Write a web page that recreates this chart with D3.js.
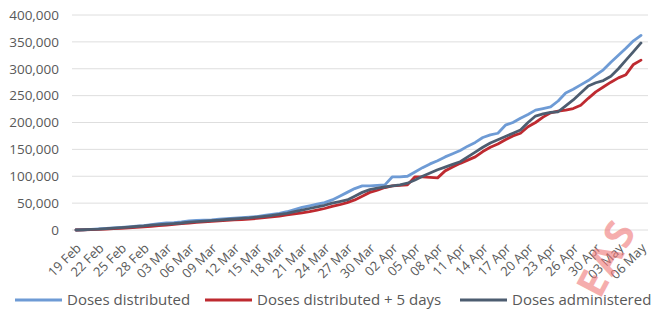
<!DOCTYPE html>
<html>
<head>
<meta charset="utf-8">
<script src="https://cdn.jsdelivr.net/npm/d3@7"></script>
<style>
  body { margin: 0; background: #ffffff; }
  text { font-family: "Open Sans", "Noto Sans", sans-serif; }
</style>
</head>
<body>
<svg id="chart"></svg>
<script>
// categories (one per reported day, 28 Apr not in the table)
var dates = [
  "19 Feb","20 Feb","21 Feb","22 Feb","23 Feb","24 Feb","25 Feb","26 Feb","27 Feb","28 Feb",
  "01 Mar","02 Mar","03 Mar","04 Mar","05 Mar","06 Mar","07 Mar","08 Mar","09 Mar","10 Mar",
  "11 Mar","12 Mar","13 Mar","14 Mar","15 Mar","16 Mar","17 Mar","18 Mar","19 Mar","20 Mar",
  "21 Mar","22 Mar","23 Mar","24 Mar","25 Mar","26 Mar","27 Mar","28 Mar","29 Mar","30 Mar",
  "31 Mar","01 Apr","02 Apr","03 Apr","04 Apr","05 Apr","06 Apr","07 Apr","08 Apr","09 Apr",
  "10 Apr","11 Apr","12 Apr","13 Apr","14 Apr","15 Apr","16 Apr","17 Apr","18 Apr","19 Apr",
  "20 Apr","21 Apr","22 Apr","23 Apr","24 Apr","25 Apr","26 Apr","27 Apr","29 Apr","30 Apr",
  "01 May","02 May","03 May","04 May","05 May","06 May"
];

// values in thousands of doses
var distributed = [
  0,0.5,1,2,3,4,5,6,7,8,
  10,12,13,13.5,15,17,18,18.5,19,20,
  21,22,23,24,25,27,29,31,34,38,
  42,45,48,51,56,63,70,77,82,82,
  83,84,99,99,100,108,116,123,129,136,
  142,148,156,163,172,177,180,195,200,208,
  215,223,226,229,240,255,262,270,278,288,
  298,312,325,338,352,362
];

var distributedPlus5 = [
  0,0.3,0.6,1,1.5,2.5,3,4,5,6,
  7,8,9,10.5,12,13,14,15,16,17,
  18,19,19.5,20.5,21.5,23,24.5,26,28,30,
  32,34,37,40,44,47,51,56,63,70,
  74,79,82,83,84,99,99,98,97,110,
  117,124,130,136,146,154,160,168,175,180,
  192,200,210,218,221,223,226,232,245,257,
  266,275,283,289,308,316
];

var administered = [
  0,0.5,1,1.5,2.5,3.5,4.5,5.5,6.5,7.5,
  9,10,11,12,13,14.5,15.5,16.5,17.5,18.5,
  19.5,20.5,21.5,22.5,24,25.5,27,29,31,34,
  37,40,43,46,50,53,56,63,70,75,
  78,80,82,84,87,93,100,106,112,117,
  122,127,136,145,154,162,168,174,180,186,
  200,212,216,219,220,231,242,255,268,274,
  278,286,300,316,332,348
];

var yTicks = [0, 50000, 100000, 150000, 200000, 250000, 300000, 350000, 400000];

var seriesNames = ["Doses distributed", "Doses distributed + 5 days", "Doses administered"];
var seriesColors = ["#6e9bd5", "#be2a30", "#4d5d70"];

var width = 657, height = 311;

var svg = d3.select("#chart")
  .attr("width", width)
  .attr("height", height);

var x = d3.scalePoint()
  .domain(dates)
  .range([76, 641]);

var y = d3.scaleLinear()
  .domain([0, 400000])
  .range([230, 15]);

// gridlines
svg.append("g")
  .selectAll("line")
  .data(yTicks)
  .enter()
  .append("line")
  .attr("x1", 72)
  .attr("x2", 648)
  .attr("y1", function(d) { return y(d); })
  .attr("y2", function(d) { return y(d); })
  .attr("stroke", "#dedede")
  .attr("stroke-width", 1);

// y axis labels
svg.append("g")
  .attr("transform", "translate(59,0)")
  .call(d3.axisLeft(y).tickValues(yTicks).tickSize(0).tickPadding(0).tickFormat(d3.format(",")))
  .call(function(g) { g.select(".domain").remove(); })
  .selectAll("text")
  .attr("fill", "#595959")
  .style("font-size", "13.5px")
  .style("font-family", "'Open Sans', sans-serif");

// x axis labels, every third day
var labelDates = dates.filter(function(d, i) { return i % 3 === 0; });
svg.append("g")
  .selectAll("text")
  .data(labelDates)
  .enter()
  .append("text")
  .attr("transform", function(d) { return "translate(" + (x(d) + 6) + ",249) rotate(-45)"; })
  .attr("text-anchor", "end")
  .attr("fill", "#595959")
  .style("font-size", "13px")
  .text(function(d) { return d; });

// lines
var allSeries = [distributed, distributedPlus5, administered];
var line = d3.line()
  .x(function(d, i) { return x(dates[i]); })
  .y(function(d) { return y(d * 1000); });

svg.append("g")
  .selectAll("path")
  .data(allSeries)
  .enter()
  .append("path")
  .attr("d", line)
  .attr("fill", "none")
  .attr("stroke", function(d, i) { return seriesColors[i]; })
  .attr("stroke-width", 2.8)
  .attr("stroke-linejoin", "round")
  .attr("stroke-linecap", "round");

// legend
var legendX = [15, 205, 460];
var legend = svg.append("g")
  .selectAll("g")
  .data(seriesNames)
  .enter()
  .append("g")
  .attr("transform", function(d, i) { return "translate(" + legendX[i] + ",300)"; });

legend.append("line")
  .attr("x1", 0)
  .attr("x2", 47)
  .attr("stroke", function(d, i) { return seriesColors[i]; })
  .attr("stroke-width", 3);

legend.append("text")
  .attr("x", 52)
  .attr("dy", "0.35em")
  .attr("fill", "#595959")
  .style("font-size", "15px")
  .text(function(d) { return d; });

// stamp watermark in the corner
svg.append("text")
  .attr("transform", "translate(600,300) rotate(-62)")
  .attr("fill", "#f07878")
  .attr("opacity", 0.6)
  .style("font-size", "40px")
  .style("font-weight", "bold")
  .style("letter-spacing", "3px")
  .text("EAS");
</script>
</body>
</html>
